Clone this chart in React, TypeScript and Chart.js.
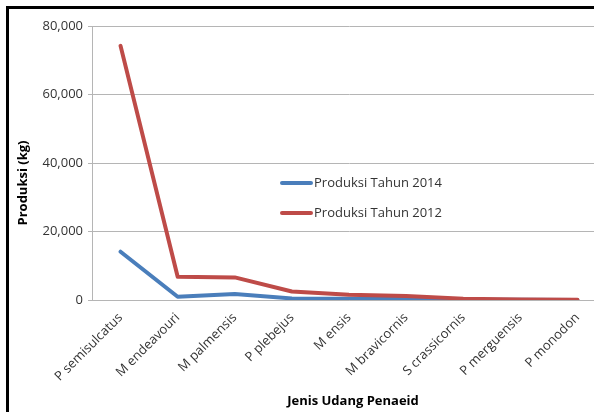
import React, { useEffect, useRef } from "react";
import { Chart, registerables } from "chart.js";

Chart.register(...registerables);

const categories = [
  "P semisulcatus",
  "M endeavouri",
  "M palmensis",
  "P plebejus",
  "M ensis",
  "M bravicornis",
  "S crassicornis",
  "P merguensis",
  "P monodon",
];
const produksi2014 = [14100, 950, 1750, 450, 400, 300, 100, 40, 20];
const produksi2012 = [74200, 6800, 6600, 2500, 1500, 1200, 400, 150, 100];
const seriesLabels = ["Produksi Tahun 2014", "Produksi Tahun 2012"];
const seriesColors = ["#4a7ebb", "#be4b48"];
const yTicks = [0, 20000, 40000, 60000, 80000];
const xTitle = "Jenis Udang Penaeid";
const yTitle = "Produksi (kg)";

const FONT = '"Open Sans", "DejaVu Sans", sans-serif';

const overlayPlugin = {
  id: "overlay",
  afterDraw(chart: any) {
    const { ctx, chartArea } = chart;
    ctx.save();
    ctx.fillStyle = "#000";
    ctx.font = `bold 13px ${FONT}`;
    ctx.textAlign = "center";
    ctx.textBaseline = "middle";
    ctx.fillText(xTitle, (chartArea.left + chartArea.right) / 2 + 4, 401);
    ctx.save();
    ctx.translate(23, 183);
    ctx.rotate(-Math.PI / 2);
    ctx.fillText(yTitle, 0, 0);
    ctx.restore();
    const ds = chart.data.datasets;
    ctx.font = `13px ${FONT}`;
    ctx.textAlign = "left";
    ctx.fillStyle = "#333";
    ds.forEach((d: any, i: number) => {
      const y = 183 + i * 30;
      ctx.strokeStyle = d.borderColor;
      ctx.lineWidth = 4;
      ctx.lineCap = "round";
      ctx.beginPath();
      ctx.moveTo(282, y);
      ctx.lineTo(311, y);
      ctx.stroke();
      ctx.fillText(d.label, 314, y);
    });
    ctx.restore();
  },
};

export default function App() {
  const ref = useRef<HTMLCanvasElement>(null);
  useEffect(() => {
    const chart = new Chart(ref.current!, {
      type: "line",
      data: {
        labels: categories,
        datasets: [
          {
            label: seriesLabels[0],
            data: produksi2014,
            borderColor: seriesColors[0],
            backgroundColor: seriesColors[0],
            borderWidth: 4,
            pointRadius: 0,
            tension: 0,
            borderCapStyle: "round",
            borderJoinStyle: "round",
            order: 1,
          },
          {
            label: seriesLabels[1],
            data: produksi2012,
            borderColor: seriesColors[1],
            backgroundColor: seriesColors[1],
            borderWidth: 4,
            pointRadius: 0,
            tension: 0,
            borderCapStyle: "round",
            borderJoinStyle: "round",
            order: 0,
          },
        ],
      },
      options: {
        responsive: false,
        animation: false,
        devicePixelRatio: 1,
        layout: { padding: { left: 0, top: 26, right: 14, bottom: 0 } },
        plugins: {
          legend: { display: false },
          tooltip: { enabled: false },
        },
        scales: {
          x: {
            offset: true,
            grid: { display: false },
            border: { display: true, color: "#b5b5b5", width: 1 },
            ticks: {
              minRotation: 45,
              maxRotation: 45,
              autoSkip: false,
              padding: 2,
              color: "#333",
              font: { family: FONT, size: 13 },
            },
            afterFit(scale: any) {
              scale.height = 112;
            },
          },
          y: {
            min: yTicks[0],
            max: yTicks[yTicks.length - 1],
            afterBuildTicks(scale: any) {
              scale.ticks = yTicks.map((v) => ({ value: v }));
            },
            grid: { color: "#b5b5b5", tickLength: 4, lineWidth: 1 },
            border: { display: true, color: "#b5b5b5", width: 1 },
            ticks: {
              padding: 5,
              color: "#333",
              font: { family: FONT, size: 13 },
              callback: (v: any) => Number(v).toLocaleString("en-US"),
            },
            afterFit(scale: any) {
              scale.width = 92;
            },
          },
        },
      },
      plugins: [overlayPlugin],
    } as any);
    return () => chart.destroy();
  }, []);
  return (
    <div
      style={{
        position: "fixed",
        left: 0,
        top: 0,
        width: 594,
        height: 412,
        overflow: "hidden",
        background: "#fff",
      }}
    >
      <canvas
        ref={ref}
        width={620}
        height={412}
        style={{ position: "absolute", left: 0, top: 0, width: 620, height: 412 }}
      />
      <div
        style={{
          position: "absolute",
          left: 6,
          top: 6,
          width: 1000,
          height: 1000,
          borderTop: "3px solid #000",
          borderLeft: "3px solid #000",
          borderRight: "none",
          borderBottom: "none",
          boxSizing: "border-box",
          pointerEvents: "none",
        }}
      />
    </div>
  );
}
